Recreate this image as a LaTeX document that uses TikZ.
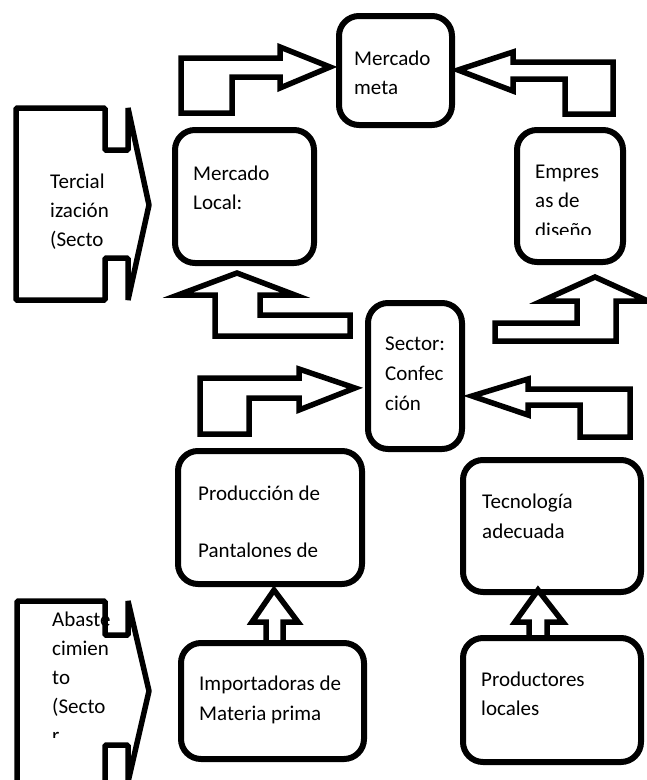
\documentclass[tikz,border=0pt]{standalone}
\usepackage{fontspec}
\setmainfont{Carlito}

% lines of a text block, first baseline is the node baseline
\newcommand{\rows}[2]{\vtop{\baselineskip=#1\lineskiplimit=-100pt\lineskip=0pt\halign{##\hfil\cr#2\crcr}}}

\tikzset{
  box/.style={draw, line width=6pt, rounded corners=20pt, inner sep=0pt},
  blk/.style={draw, line width=5.5pt, line join=miter},
  brk/.style={blk, line join=bevel},
  txt/.style={font=\fontsize{21}{29}\selectfont, inner sep=0pt, anchor=base west}
}

\begin{document}
\begin{tikzpicture}[x=1pt,y=-1pt]
\useasboundingbox (0,0) rectangle (646,780);

% boxes
\node[box, minimum width=113pt, minimum height=109pt] (meta) at (395.5,70.5) {};
\node[box, minimum width=139pt, minimum height=133pt] (local) at (244.5,196.5) {};
\node[box, minimum width=106pt, minimum height=132pt] (disenio) at (570,196) {};
\node[box, minimum width=94pt, minimum height=146pt] (sector) at (415,376) {};
\node[box, minimum width=184pt, minimum height=133pt] (prod) at (270,517.5) {};
\node[box, minimum width=178pt, minimum height=132pt] (tecno) at (552,526) {};
\node[box, minimum width=183pt, minimum height=116pt] (impo) at (272.5,701) {};
\node[box, minimum width=178pt, minimum height=124pt] (prodloc) at (552,700) {};

% sector brackets on the left
\draw[brk] (16,108) -- (105,108) -- (105,150) -- (128,150) -- (128,108) -- (149,205)
  -- (128,300) -- (128,258) -- (105,258) -- (105,300) -- (16,300) -- cycle;
\draw[brk] (17,601) -- (105,601) -- (105,635) -- (128,635) -- (128,601) -- (149,691)
  -- (128,782) -- (128,745) -- (105,745) -- (105,786) -- (17,786) -- cycle;

% bent block arrows
\draw[blk] (181,113) -- (181,58) -- (280,58) -- (280,47) -- (330,67) -- (280,88)
  -- (280,77) -- (232,77) -- (232,113) -- cycle;
\draw[blk] (613,114) -- (613,62) -- (513,62) -- (513,52) -- (458,70) -- (513,91)
  -- (513,79) -- (565,79) -- (565,114) -- cycle;
\draw[blk] (350,336) -- (215,336) -- (215,295) -- (178,295) -- (237,273) -- (295,295)
  -- (260,295) -- (260,315) -- (350,315) -- cycle;
\draw[blk] (495,341) -- (495,323) -- (577,323) -- (577,301) -- (542,301) -- (595,277)
  -- (648,301) -- (616,301) -- (616,341) -- cycle;
\draw[blk] (200,434) -- (200,378) -- (299,378) -- (299,369) -- (355,388) -- (299,410)
  -- (299,398) -- (249,398) -- (249,434) -- cycle;
\draw[blk] (630,437) -- (630,389) -- (528,389) -- (528,379) -- (472,396) -- (528,415)
  -- (528,405) -- (580,405) -- (580,437) -- cycle;

% small up arrows
\draw[blk] (266,643) -- (266,622) -- (252,622) -- (274,590) -- (298,622) -- (283,622)
  -- (283,643) -- cycle;
\draw[blk] (529,638) -- (529,622) -- (515,622) -- (538,590) -- (563,622) -- (547,622)
  -- (547,638) -- cycle;

% texts
\node[txt] (meta-t) at (354,65) {\rows{29pt}{Mercado\cr meta}};
\node[txt] (local-t) at (193,180) {\rows{29pt}{Mercado\cr Local:}};
\begin{scope}
  \clip (520,140) rectangle (620,234);
  \node[txt] (disenio-t) at (535,178) {\rows{29.5pt}{Empres\cr as de\cr diseño}};
\end{scope}
\node[txt] (sector-t) at (385,350) {\rows{30pt}{Sector:\cr Confec\cr ción}};
\begin{scope}
  \clip (185,460) rectangle (360,556);
  \node[txt] (prod-t) at (198,500) {\rows{57pt}{Producción de\cr Pantalones de}};
\end{scope}
\node[txt] (tecno-t) at (482,508) {\rows{30pt}{Tecnología\cr adecuada}};
\node[txt] (impo-t) at (199,690) {\rows{30pt}{Importadoras de\cr Materia prima}};
\node[txt] (prodloc-t) at (481,686) {\rows{29pt}{Productores\cr locales}};
\node[txt] (terc-t) at (50,188) {\rows{29pt}{Tercial\cr ización\cr (Secto}};
\begin{scope}
  \clip (20,590) rectangle (140,737);
  \node[txt] (abast-t) at (52,626) {\rows{29pt}{Abaste\cr cimien\cr to\cr (Secto\cr r}};
\end{scope}
\end{tikzpicture}
\end{document}
